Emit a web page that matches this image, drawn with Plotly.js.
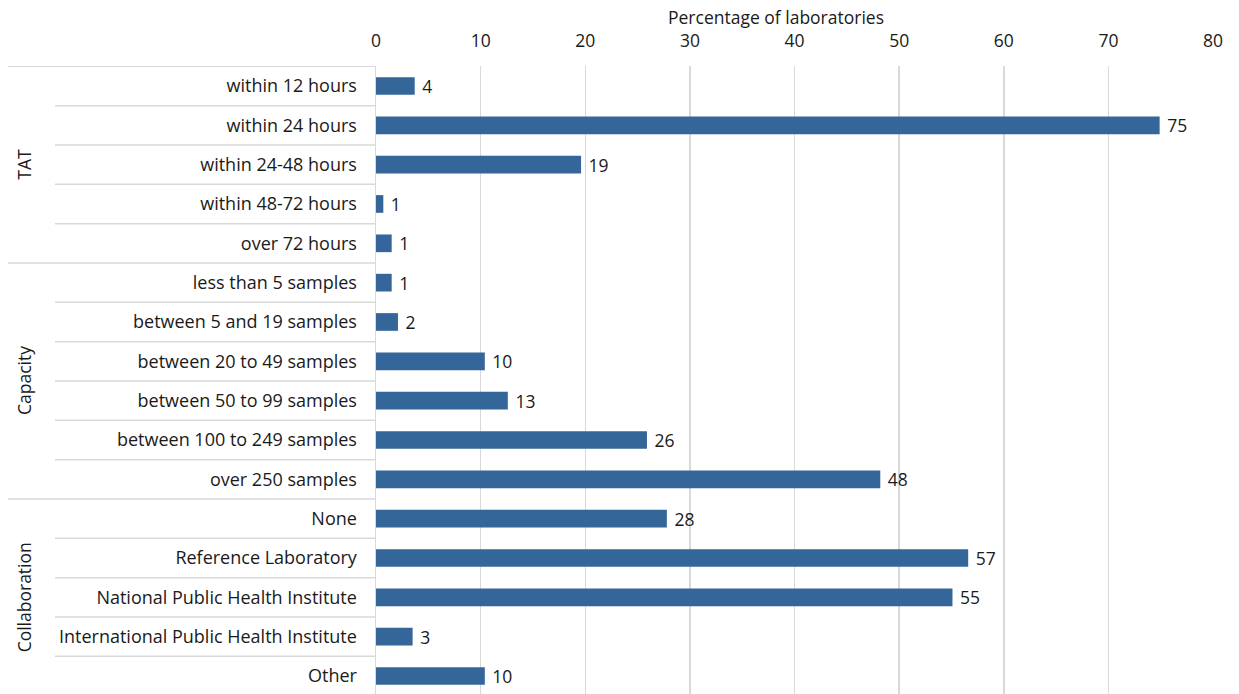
<!DOCTYPE html>
<html><head><meta charset="utf-8">
<script src="https://cdn.plot.ly/plotly-3.0.1.min.js"></script>
<style>html,body{margin:0;padding:0;background:#fff}#c{width:1239px;height:694px}</style>
</head><body><div id="c"></div>
<script>
const categories = [
  "within 12 hours","within 24 hours","within 24-48 hours","within 48-72 hours","over 72 hours",
  "less than 5 samples","between 5 and 19 samples","between 20 to 49 samples","between 50 to 99 samples","between 100 to 249 samples","over 250 samples",
  "None","Reference Laboratory","National Public Health Institute","International Public Health Institute","Other"
];
const values = [3.7,74.9,19.6,0.7,1.5, 1.5,2.1,10.4,12.6,25.9,48.2, 27.8,56.6,55.1,3.5,10.4];
const valueLabels = ["4","75","19","1","1","1","2","10","13","26","48","28","57","55","3","10"];
const groups = ["TAT","Capacity","Collaboration"];
const groupSizes = [5,6,5];
const xTicks = [0,10,20,30,40,50,60,70,80];
const xTitle = "Percentage of laboratories";

const FONT = 'Open Sans, sans-serif';
const TXT = '#1a1a1a';
const shapes = [];
const annotations = [];
let start = 0;
groups.forEach((g,gi)=>{
  const n = groupSizes[gi];
  shapes.push({type:'line',xref:'paper',yref:'y',x0:-0.4397,x1:0,y0:start-0.5,y1:start-0.5,line:{color:'#d9d9d9',width:1.5}});
  for(let i=1;i<n;i++){
    shapes.push({type:'line',xref:'paper',yref:'y',x0:-0.3835,x1:0,y0:start+i-0.5,y1:start+i-0.5,line:{color:'#d9d9d9',width:1.5}});
  }
  annotations.push({xref:'paper',yref:'y',x:-0.4205,y:start+(n-1)/2,text:g,showarrow:false,textangle:-90,
    font:{family:FONT,size:17.5,color:TXT},xanchor:'center',yanchor:'middle'});
  start += n;
});
annotations.push({xref:'paper',yref:'paper',x:0.478,y:1,yshift:49,text:xTitle,showarrow:false,
  font:{family:FONT,size:17.5,color:TXT},xanchor:'center',yanchor:'middle'});

const trace = {
  type:'bar', orientation:'h',
  x: values, y: categories.map((c,i)=>i),
  text: valueLabels, texttemplate:'\u00a0%{text}', textposition:'outside', cliponaxis:false, constraintext:'none',
  textfont:{family:FONT,size:17.5,color:TXT},
  marker:{color:'#35669a'},
  hoverinfo:'none'
};

const layout = {
  width:1239, height:694,
  margin:{l:376,r:26,t:66,b:0},
  paper_bgcolor:'#fff', plot_bgcolor:'#fff',
  showlegend:false,
  bargap:0.55,
  font:{family:FONT,size:17.5,color:TXT},
  xaxis:{side:'top',range:[0,80],tickvals:xTicks,ticktext:xTicks.map(String),showgrid:true,gridcolor:'#d9d9d9',gridwidth:1.5,
    zeroline:false,showline:false,ticks:'outside',ticklen:11,tickcolor:'rgba(0,0,0,0)',
    tickfont:{size:17.5,color:TXT}},
  yaxis:{type:'linear',autorange:false,range:[15.458,-0.508],tickvals:categories.map((c,i)=>i),ticktext:categories,
    showgrid:false,zeroline:false,showline:true,linecolor:'#d9d9d9',linewidth:1.5,
    ticks:'outside',ticklen:14,tickcolor:'rgba(0,0,0,0)',tickfont:{size:18,color:TXT}},
  shapes:shapes, annotations:annotations
};
Plotly.newPlot('c',[trace],layout,{staticPlot:true});
</script></body></html>
